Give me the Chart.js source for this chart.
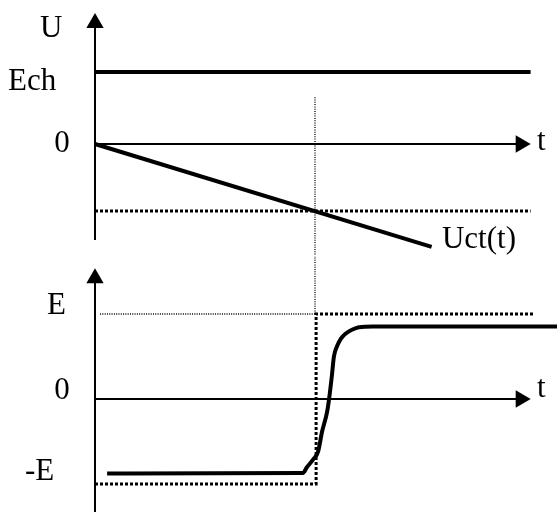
<!DOCTYPE html>
<html>
<head>
<meta charset="utf-8">
<script src="https://cdn.jsdelivr.net/npm/chart.js@4/dist/chart.umd.min.js"></script>
<style>
html,body{margin:0;padding:0;background:#fff;}
#wrap{position:relative;width:557px;height:512px;}
.pane{position:absolute;left:0;width:557px;height:256px;}
#top{top:0;}
#bot{top:256px;}
canvas{display:block;}
</style>
</head>
<body>
<div id="wrap">
  <div class="pane" id="top"><canvas id="c1" width="557" height="256"></canvas></div>
  <div class="pane" id="bot"><canvas id="c2" width="557" height="256"></canvas></div>
</div>
<script>
// ---- values (time in units of the switching instant, voltages in units of Ech / E) ----
const tSwitch = 1;
const tEnd = 1.98;
const Ech = 1;
const threshold = -0.93;
const uctT = [0, 1.53];
const uctV = [0, -1.43];
const E = 1;
const outT = [0.055, 0.945, 0.964, 0.991, 1.014, 1.032, 1.055, 1.064, 1.077, 1.086, 1.100, 1.118, 1.140, 1.168, 1.200, 1.264, 2.1];
const outV = [-0.877, -0.870, -0.800, -0.713, -0.620, -0.386, -0.152, 0, 0.281, 0.500, 0.620, 0.710, 0.770, 0.815, 0.845, 0.854, 0.854];
const topLabels = ['U', 'Ech', '0', 't', 'Uct(t)'];
const botLabels = ['E', '0', 't', '-E'];

const FONT = '31px "Liberation Serif", "Times New Roman", serif';
const pts = (xs, ys) => xs.map((x, i) => ({x: x, y: ys[i]}));

function labelPlugin(items) {
  return {
    id: 'lbl',
    afterDatasetsDraw(chart) {
      const ctx = chart.ctx, xs = chart.scales.x, ys = chart.scales.y;
      ctx.save();
      ctx.font = FONT;
      ctx.fillStyle = '#000';
      ctx.textBaseline = 'alphabetic';
      ctx.textAlign = 'left';
      items.forEach(it => ctx.fillText(it.text, xs.getPixelForValue(it.t), ys.getPixelForValue(it.v)));
      ctx.restore();
    }
  };
}

function line(data, opt) {
  return Object.assign({data: data, borderColor: '#000', backgroundColor: '#000', borderWidth: 2,
    pointRadius: 0, fill: false, tension: 0, borderCapStyle: 'butt', clip: false}, opt || {});
}
function arrow(data, rot) {
  return line(data, {
    pointRadius: data.map((p, i) => i === data.length - 1 ? 10 : 0),
    pointStyle: 'triangle', pointRotation: rot, pointBorderWidth: 0
  });
}
const thinDot = {borderWidth: 1.3, borderDash: [1, 1.3]};

function makeChart(id, datasets, ymin, ymax, labels) {
  return new Chart(document.getElementById(id), {
    type: 'line',
    data: {datasets: datasets},
    options: {
      responsive: false, animation: false, events: [],
      layout: {padding: 0, autoPadding: false},
      plugins: {legend: {display: false}, tooltip: {enabled: false}},
      scales: {
        x: {type: 'linear', display: false, min: -95 / 220, max: 462 / 220},
        y: {type: 'linear', display: false, min: ymin, max: ymax}
      }
    },
    plugins: [labelPlugin(labels)]
  });
}

// ---- top panel ----
makeChart('c1', [
  arrow([{x: 0, y: -1.333}, {x: 0, y: 1.68}], 0),
  arrow([{x: 0, y: 0}, {x: tEnd - 0.045, y: 0}], 90),
  line([{x: 0, y: Ech}, {x: tEnd, y: Ech}], {borderWidth: 4}),
  line(pts(uctT, uctV), {borderWidth: 4}),
  line([{x: 0, y: threshold}, {x: tEnd, y: threshold}], {borderWidth: 3, borderDash: [3, 2]}),
  line([{x: tSwitch, y: 0.65}, {x: tSwitch, y: -1.6}], thinDot)
], -112 / 72, 144 / 72, [
  {text: topLabels[0], t: -0.25, v: 1.49},
  {text: topLabels[1], t: -0.395, v: 0.75},
  {text: topLabels[2], t: -0.185, v: -0.11},
  {text: topLabels[3], t: 2.009, v: -0.083},
  {text: topLabels[4], t: 1.577, v: -1.444}
]);

// ---- bottom panel ----
makeChart('c2', [
  arrow([{x: 0, y: -1.4}, {x: 0, y: 1.42}], 0),
  arrow([{x: 0, y: 0}, {x: tEnd - 0.045, y: 0}], 90),
  line([{x: 0.023, y: E}, {x: tSwitch, y: E}], thinDot),
  line([{x: tSwitch, y: 1.8}, {x: tSwitch, y: E}], thinDot),
  line([{x: 0, y: -E}, {x: tSwitch + 0.005, y: -E}, {x: tSwitch + 0.005, y: E}, {x: 2.0, y: E}], {borderWidth: 3, borderDash: [3, 2]}),
  line(pts(outT, outV), {borderWidth: 4, cubicInterpolationMode: 'monotone'})
], -113 / 85, 143 / 85, [
  {text: botLabels[0], t: -0.218, v: 1.0},
  {text: botLabels[1], t: -0.185, v: 0},
  {text: botLabels[2], t: 2.009, v: 0.02},
  {text: botLabels[3], t: -0.318, v: -0.953}
]);
</script>
</body>
</html>
